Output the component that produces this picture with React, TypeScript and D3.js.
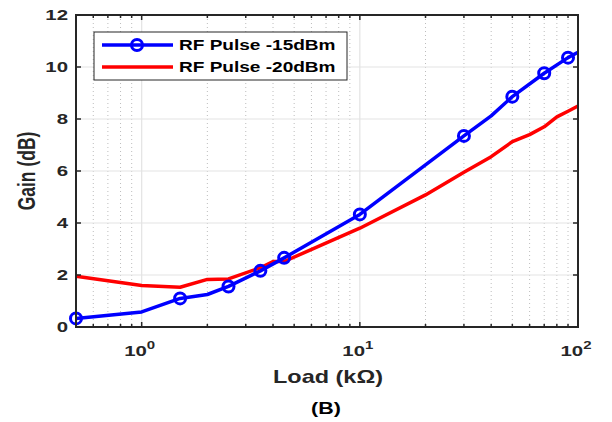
import React from "react";
import * as d3 from "d3";

const blueX = [0.5, 1, 1.5, 2, 2.5, 3.5, 4.5, 10, 30, 40, 50, 70, 90, 100];
const blueY = [0.33, 0.58, 1.1, 1.25, 1.56, 2.16, 2.66, 4.33, 7.35, 8.12, 8.86, 9.76, 10.36, 10.57];
const blueMarkers = [0.5, 1.5, 2.5, 3.5, 4.5, 10, 30, 50, 70, 90];

const redX = [0.5, 1, 1.5, 2, 2.5, 3.5, 4, 4.5, 10, 20, 30, 40, 50, 60, 70, 80, 90, 100];
const redY = [1.95, 1.6, 1.53, 1.83, 1.85, 2.28, 2.52, 2.52, 3.8, 5.08, 5.95, 6.55, 7.13, 7.4, 7.7, 8.08, 8.3, 8.5];

const yTicks = [0, 2, 4, 6, 8, 10, 12];
const xMajor = [1, 10, 100];
const xMajorExp = ["0", "1", "2"];
const xMinor = [0.6, 0.7, 0.8, 0.9, 2, 3, 4, 5, 6, 7, 8, 9, 20, 30, 40, 50, 60, 70, 80, 90];
const seriesNames = ["RF Pulse -15dBm", "RF Pulse -20dBm"];

const W = 612, H = 422;
const L = 76, R = 578, T = 15, B = 327;
const FONT = "'Liberation Sans', Arial, sans-serif";
const SX = 1.36;

export default function App() {
  const x = d3.scaleLog().domain([0.5, 100]).range([L, R]);
  const y = d3.scaleLinear().domain([0, 12]).range([B, T]);
  const line = d3.line<[number, number]>().x(d => x(d[0])).y(d => y(d[1]));
  const blue = blueX.map((v, i) => [v, blueY[i]] as [number, number]);
  const red = redX.map((v, i) => [v, redY[i]] as [number, number]);
  const tc = "#262626";
  return (
    <svg width={W} height={H} style={{ position: "absolute", left: 0, top: 0 }}>
      <rect x={0} y={0} width={W} height={H} fill="#fff" />
      {/* grid */}
      {xMinor.map(v => (
        <line key={"gm" + v} x1={x(v)} x2={x(v)} y1={T} y2={B} stroke="#bdbdbd" strokeWidth={1} strokeDasharray="1,3" />
      ))}
      {xMajor.map(v => (
        <line key={"gM" + v} x1={x(v)} x2={x(v)} y1={T} y2={B} stroke="#e3e3e3" strokeWidth={1.2} />
      ))}
      {yTicks.map(v => (
        <line key={"gy" + v} x1={L} x2={R} y1={y(v)} y2={y(v)} stroke="#e3e3e3" strokeWidth={1.2} />
      ))}
      {/* data */}
      <path d={line(red) || ""} fill="none" stroke="#ff0000" strokeWidth={3.5} strokeLinejoin="round" />
      <path d={line(blue) || ""} fill="none" stroke="#0000ff" strokeWidth={3.5} strokeLinejoin="round" />
      {blueMarkers.map(v => {
        const i = blueX.indexOf(v);
        return <circle key={"m" + v} cx={x(v)} cy={y(blueY[i])} r={5.5} fill="none" stroke="#0000ff" strokeWidth={3} />;
      })}
      {/* axes box */}
      <rect x={L} y={T} width={R - L} height={B - T} fill="none" stroke={tc} strokeWidth={2} />
      {/* ticks */}
      {xMinor.map(v => (
        <g key={"tm" + v}>
          <line x1={x(v)} x2={x(v)} y1={B} y2={B - 3} stroke={tc} strokeWidth={1.5} />
          <line x1={x(v)} x2={x(v)} y1={T} y2={T + 3} stroke={tc} strokeWidth={1.5} />
        </g>
      ))}
      {xMajor.map(v => (
        <g key={"tM" + v}>
          <line x1={x(v)} x2={x(v)} y1={B} y2={B - 5} stroke={tc} strokeWidth={1.5} />
          <line x1={x(v)} x2={x(v)} y1={T} y2={T + 5} stroke={tc} strokeWidth={1.5} />
        </g>
      ))}
      {yTicks.map(v => (
        <g key={"ty" + v}>
          <line x1={L} x2={L + 5} y1={y(v)} y2={y(v)} stroke={tc} strokeWidth={1.5} />
          <line x1={R} x2={R - 5} y1={y(v)} y2={y(v)} stroke={tc} strokeWidth={1.5} />
          <g transform={`translate(${L - 8},${y(v)}) scale(${SX},1)`}>
            <text x={0} y={0} dy="0.36em" textAnchor="end" fontFamily={FONT} fontWeight="bold" fontSize={15} fill={tc}>{v}</text>
          </g>
        </g>
      ))}
      {xMajor.map((v, i) => (
        <g key={"xl" + v} transform={`translate(${x(v) - 2},356) scale(${SX},1)`}>
          <text x={0} y={0} textAnchor="middle" fontFamily={FONT} fontWeight="bold" fontSize={15} fill={tc}>
            10<tspan dy={-7} fontSize={11}>{xMajorExp[i]}</tspan>
          </text>
        </g>
      ))}
      {/* labels */}
      <g transform={`translate(${(L + R) / 2 + 1},383) scale(1.34,1)`}>
        <text x={0} y={0} textAnchor="middle" fontFamily={FONT} fontWeight="bold" fontSize={17.5} fill={tc}>Load (kΩ)</text>
      </g>
      <g transform={`translate(35,171) scale(1.35,1) rotate(-90)`}>
        <text x={0} y={0} textAnchor="middle" fontFamily={FONT} fontWeight="bold" fontSize={17.5} fill={tc}>Gain (dB)</text>
      </g>
      <g transform={`translate(${(L + R) / 2 - 1},414) scale(1.3,1)`}>
        <text x={0} y={0} textAnchor="middle" fontFamily={FONT} fontWeight="bold" fontSize={16.5} fill="#000">(B)</text>
      </g>
      {/* legend */}
      <rect x={94} y={32} width={253} height={48} fill="#fff" stroke="#262626" strokeWidth={1} />
      <line x1={102} x2={173} y1={45} y2={45} stroke="#0000ff" strokeWidth={3.5} />
      <circle cx={137} cy={45} r={5.5} fill="none" stroke="#0000ff" strokeWidth={3} />
      <line x1={102} x2={173} y1={67} y2={67} stroke="#ff0000" strokeWidth={3.5} />
      <g transform={`translate(179,45) scale(${SX},1)`}>
        <text x={0} y={0} dy="0.36em" fontFamily={FONT} fontWeight="bold" fontSize={14} fill="#000">{seriesNames[0]}</text>
      </g>
      <g transform={`translate(179,67) scale(${SX},1)`}>
        <text x={0} y={0} dy="0.36em" fontFamily={FONT} fontWeight="bold" fontSize={14} fill="#000">{seriesNames[1]}</text>
      </g>
    </svg>
  );
}
